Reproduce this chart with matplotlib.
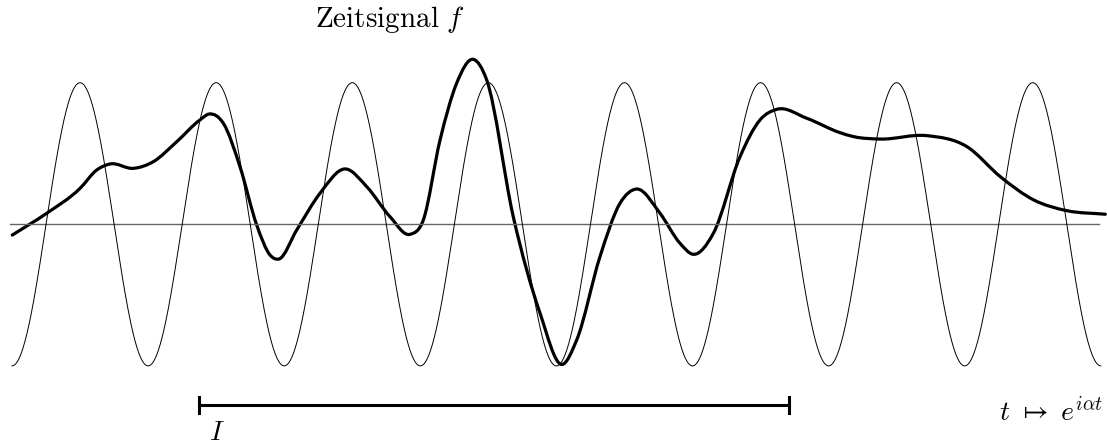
import numpy as np
import matplotlib
matplotlib.use("Agg")
import matplotlib.pyplot as plt
from matplotlib.path import Path
from matplotlib.patches import PathPatch

plt.rcParams['mathtext.fontset'] = 'cm'

# carrier wave: number of full periods shown
n_periods = 8

# time signal f (t in periods, y in carrier amplitudes)
sig_t = [0.002, 0.255, 0.500, 0.622, 0.720, 0.891, 1.038, 1.210,
         1.381, 1.450, 1.553, 1.675, 1.798, 1.896, 1.962,
         2.092, 2.263, 2.447, 2.606, 2.777, 2.924,
         3.022, 3.145, 3.267, 3.389, 3.488, 3.683, 3.880,
         4.040, 4.149, 4.320, 4.467, 4.590, 4.761, 4.908,
         5.006, 5.153, 5.349, 5.496, 5.619, 5.839, 6.084, 6.184, 6.380,
         6.723, 7.017, 7.262, 7.507, 7.752, 8.033]
sig_y = [-0.076, 0.078, 0.254, 0.383, 0.426, 0.395, 0.442, 0.583,
         0.737, 0.779, 0.713, 0.407, -0.005, -0.217, -0.245,
         -0.040, 0.219, 0.391, 0.266, 0.054, -0.071,
         0.030, 0.595, 0.996, 1.165, 1.019, 0.054, -0.629,
         -0.990, -0.817, -0.229, 0.148, 0.249, 0.078, -0.134,
         -0.212, -0.064, 0.477, 0.737, 0.812, 0.749, 0.647, 0.619, 0.602,
         0.626, 0.548, 0.336, 0.172, 0.096, 0.071]

# interval I
interval = (1.376, 5.709)
interval_y = -1.276


def smooth_path(xs, ys):
    # C1 hermite curve through the points, given to matplotlib as bezier segments
    x = np.asarray(xs)
    y = np.asarray(ys)
    h = np.diff(x)
    s = np.diff(y) / h
    m = np.empty_like(y)
    m[0], m[-1] = s[0], s[-1]
    m[1:-1] = (s[:-1] * h[1:] + s[1:] * h[:-1]) / (h[:-1] + h[1:])
    verts = [(x[0], y[0])]
    codes = [Path.MOVETO]
    for i in range(len(x) - 1):
        d = h[i] / 3
        verts += [(x[i] + d, y[i] + m[i] * d),
                  (x[i + 1] - d, y[i + 1] - m[i + 1] * d),
                  (x[i + 1], y[i + 1])]
        codes += [Path.CURVE4] * 3
    return Path(verts, codes)


fig = plt.figure(figsize=(11.07, 4.46), dpi=100)
ax = fig.add_axes([0, 0, 1, 1])
ax.set_xlim(-0.0882, 8.0455)
ax.set_ylim(-1.5657, 1.584)
ax.axis('off')

# zero line
ax.plot([-0.015, 7.99], [0, 0], color='#666666', lw=1.0)

# carrier
t = np.linspace(0, n_periods, 3000)
ax.plot(t, -np.cos(2 * np.pi * t), color='black', lw=0.7)

# signal
ax.add_patch(PathPatch(smooth_path(sig_t, sig_y), facecolor='none',
                       edgecolor='black', lw=2.3, capstyle='round'))

# interval bar
ax.plot(interval, [interval_y, interval_y], color='black', lw=2.2)
for x in interval:
    ax.plot([x, x], [interval_y - 0.057, interval_y + 0.057], color='black', lw=2.2)

ax.text(2.78, 1.443, r'$\mathrm{Zeitsignal}\ f$', fontsize=21, ha='center', va='center')
ax.text(1.505, -1.523, r'$I$', fontsize=20, ha='center', va='baseline')
ax.text(8.016, -1.394, r'$t\ \mapsto\ e^{i\alpha t}$', fontsize=20, ha='right', va='baseline')

fig.savefig('out.png', dpi=100)
